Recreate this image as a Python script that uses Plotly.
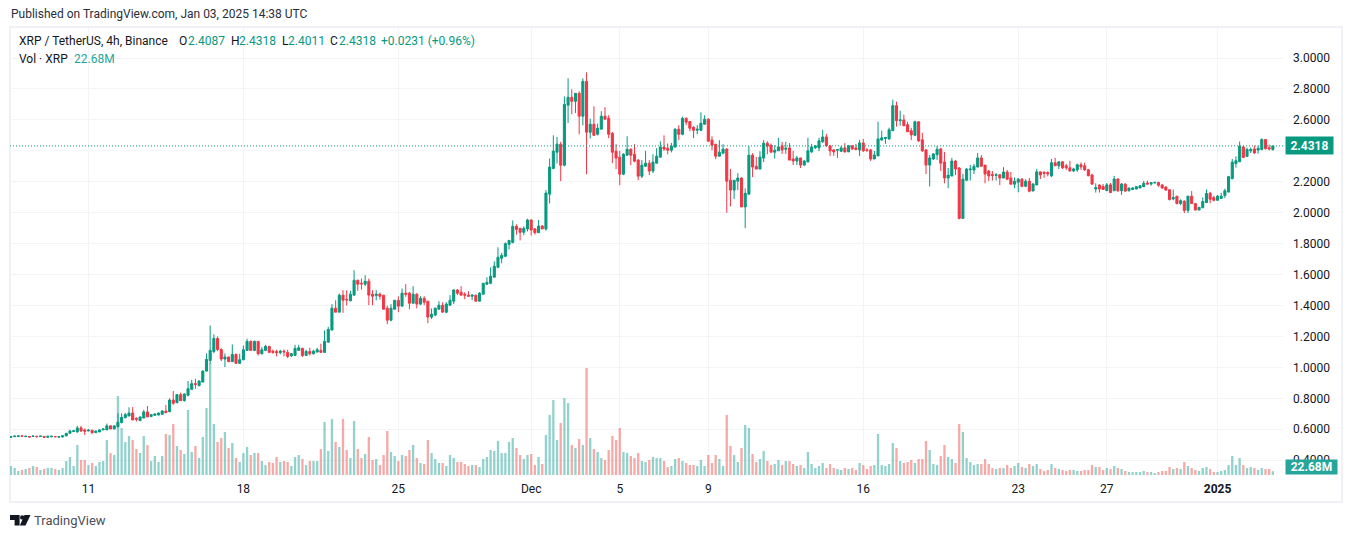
"""XRP / TetherUS 4h chart in the TradingView look, built with plotly."""
import pandas as pd
import plotly.graph_objects as go

# the page keeps the browser's 8px body margin, so the figure is that much smaller
PAGE_MARGIN = 8
W, H = 1336, 522
UP, DOWN = "#089981", "#f23645"
VOL_UP, VOL_DOWN = "rgba(38,166,154,0.5)", "rgba(239,83,80,0.5)"
TEXT = "#131722"
GRID = "#f3f4f6"
FRAME = "#eff1f7"
FONT = "Roboto"

OPENS = [
    .548, .552, .553, .558, .552, .553, .553, .555, .553, .554,
    .548, .551, .554, .549, .550, .557, .574, .585, .583, .609,
    .596, .589, .594, .578, .583, .596, .596, .622, .602, .617,
    .643, .675, .686, .705, .671, .656, .673, .712, .682, .690,
    .692, .697, .718, .714, .789, .772, .824, .785, .820, .858,
    .895, .882, .905, .976, 1.045, 1.103, 1.187, 1.116, 1.054, 1.067,
    1.037, 1.084, 1.026, 1.050, 1.110, 1.168, 1.110, 1.168, 1.088, 1.110,
    1.136, 1.105, 1.103, 1.095, 1.105, 1.097, 1.075, 1.077, 1.110, 1.123,
    1.077, 1.103, 1.088, 1.100, 1.110, 1.097, 1.163, 1.241, 1.383, 1.357,
    1.467, 1.440, 1.430, 1.467, 1.563, 1.544, 1.538, 1.557, 1.473, 1.464,
    1.473, 1.467, 1.383, 1.305, 1.376, 1.434, 1.396, 1.480, 1.480, 1.415,
    1.473, 1.409, 1.447, 1.428, 1.325, 1.338, 1.376, 1.402, 1.357, 1.402,
    1.428, 1.500, 1.486, 1.473, 1.467, 1.460, 1.467, 1.428, 1.473, 1.538,
    1.544, 1.583, 1.647, 1.705, 1.718, 1.795, 1.808, 1.912, 1.899, 1.873,
    1.895, 1.953, 1.895, 1.871, 1.914, 1.895, 2.120, 2.286, 2.391, 2.443,
    2.307, 2.695, 2.746, 2.720, 2.772, 2.624, 2.849, 2.520, 2.572, 2.507,
    2.540, 2.624, 2.610, 2.514, 2.398, 2.359, 2.249, 2.372, 2.410, 2.378,
    2.340, 2.236, 2.300, 2.320, 2.269, 2.320, 2.359, 2.424, 2.417, 2.404,
    2.424, 2.540, 2.507, 2.610, 2.590, 2.552, 2.533, 2.533, 2.572, 2.604,
    2.469, 2.443, 2.365, 2.385, 2.411, 2.210, 2.146, 2.204, 2.224, 2.037,
    2.120, 2.372, 2.300, 2.282, 2.353, 2.449, 2.436, 2.391, 2.400, 2.432,
    2.410, 2.419, 2.347, 2.334, 2.354, 2.308, 2.328, 2.393, 2.420, 2.419,
    2.458, 2.490, 2.432, 2.406, 2.404, 2.397, 2.419, 2.393, 2.432, 2.419,
    2.406, 2.451, 2.406, 2.406, 2.347, 2.367, 2.470, 2.480, 2.477, 2.530,
    2.692, 2.595, 2.600, 2.569, 2.530, 2.500, 2.588, 2.471, 2.406, 2.308,
    2.347, 2.375, 2.412, 2.328, 2.224, 2.237, 2.334, 2.289, 1.963, 2.210,
    2.278, 2.276, 2.295, 2.354, 2.308, 2.269, 2.247, 2.241, 2.245, 2.224,
    2.263, 2.224, 2.184, 2.197, 2.217, 2.171, 2.204, 2.140, 2.179, 2.264,
    2.262, 2.260, 2.238, 2.323, 2.303, 2.329, 2.303, 2.290, 2.270, 2.277,
    2.310, 2.303, 2.277, 2.244, 2.153, 2.179, 2.170, 2.142, 2.180, 2.142,
    2.218, 2.142, 2.185, 2.142, 2.150, 2.153, 2.160, 2.168, 2.192, 2.185,
    2.192, 2.196, 2.179, 2.166, 2.148, 2.089, 2.107, 2.059, 2.074, 2.015,
    2.107, 2.059, 2.017, 2.032, 2.065, 2.126, 2.098, 2.080, 2.092, 2.111,
    2.133, 2.220, 2.318, 2.329, 2.425, 2.364, 2.400, 2.412, 2.405, 2.408,
    2.473, 2.420, 2.4087,
]
CLOSES = [
    .552, .556, .557, .555, .555, .550, .556, .553, .556, .548,
    .555, .555, .552, .552, .558, .574, .589, .591, .609, .589,
    .587, .594, .578, .589, .596, .602, .622, .602, .622, .645,
    .677, .695, .705, .660, .665, .680, .712, .680, .695, .699,
    .705, .718, .708, .789, .768, .824, .785, .828, .862, .895,
    .890, .912, .976, 1.052, 1.110, 1.187, 1.116, 1.054, 1.067, 1.037,
    1.084, 1.026, 1.050, 1.114, 1.168, 1.110, 1.168, 1.088, 1.114, 1.136,
    1.097, 1.097, 1.095, 1.105, 1.100, 1.071, 1.089, 1.123, 1.127, 1.077,
    1.103, 1.088, 1.105, 1.114, 1.097, 1.168, 1.245, 1.383, 1.357, 1.467,
    1.434, 1.436, 1.473, 1.563, 1.538, 1.540, 1.557, 1.467, 1.460, 1.473,
    1.460, 1.376, 1.305, 1.383, 1.434, 1.396, 1.480, 1.473, 1.415, 1.473,
    1.409, 1.447, 1.421, 1.325, 1.344, 1.383, 1.402, 1.357, 1.409, 1.434,
    1.500, 1.480, 1.467, 1.467, 1.460, 1.467, 1.428, 1.480, 1.544, 1.550,
    1.589, 1.654, 1.712, 1.724, 1.800, 1.821, 1.912, 1.892, 1.873, 1.899,
    1.953, 1.888, 1.871, 1.914, 1.895, 2.127, 2.295, 2.398, 2.443, 2.307,
    2.700, 2.746, 2.720, 2.772, 2.624, 2.849, 2.520, 2.572, 2.500, 2.546,
    2.624, 2.604, 2.507, 2.391, 2.353, 2.249, 2.378, 2.410, 2.372, 2.333,
    2.236, 2.307, 2.320, 2.269, 2.327, 2.365, 2.424, 2.411, 2.404, 2.430,
    2.540, 2.507, 2.610, 2.585, 2.546, 2.533, 2.540, 2.578, 2.604, 2.462,
    2.436, 2.365, 2.391, 2.411, 2.204, 2.146, 2.210, 2.224, 2.037, 2.125,
    2.372, 2.295, 2.282, 2.359, 2.449, 2.430, 2.391, 2.404, 2.425, 2.406,
    2.417, 2.340, 2.334, 2.354, 2.308, 2.334, 2.400, 2.425, 2.432, 2.465,
    2.490, 2.432, 2.400, 2.393, 2.408, 2.419, 2.393, 2.432, 2.412, 2.408,
    2.451, 2.400, 2.402, 2.347, 2.373, 2.477, 2.484, 2.486, 2.536, 2.692,
    2.595, 2.600, 2.562, 2.523, 2.503, 2.588, 2.464, 2.400, 2.308, 2.354,
    2.380, 2.410, 2.320, 2.224, 2.243, 2.334, 2.282, 1.963, 2.217, 2.282,
    2.282, 2.300, 2.354, 2.300, 2.250, 2.237, 2.241, 2.245, 2.224, 2.263,
    2.217, 2.184, 2.204, 2.217, 2.170, 2.204, 2.139, 2.185, 2.264, 2.244,
    2.255, 2.250, 2.323, 2.303, 2.329, 2.290, 2.290, 2.270, 2.283, 2.310,
    2.296, 2.277, 2.238, 2.185, 2.162, 2.153, 2.150, 2.180, 2.130, 2.218,
    2.142, 2.185, 2.140, 2.160, 2.160, 2.168, 2.174, 2.190, 2.185, 2.194,
    2.196, 2.177, 2.160, 2.146, 2.085, 2.098, 2.059, 2.078, 2.015, 2.107,
    2.059, 2.017, 2.035, 2.072, 2.124, 2.087, 2.080, 2.107, 2.107, 2.142,
    2.233, 2.327, 2.336, 2.430, 2.357, 2.408, 2.408, 2.386, 2.416, 2.473,
    2.414, 2.412, 2.4318,
]
HIGHS = [
    .553, .558, .559, .561, .557, .556, .560, .557, .557, .555,
    .556, .556, .556, .556, .559, .575, .596, .593, .622, .622,
    .604, .602, .596, .590, .600, .606, .637, .624, .624, .703,
    .703, .706, .742, .744, .677, .680, .725, .750, .699, .703,
    .708, .724, .757, .800, .847, .826, .837, .832, .912, .920,
    .927, .916, .981, 1.090, 1.271, 1.213, 1.200, 1.123, 1.090, 1.070,
    1.148, 1.090, 1.088, 1.142, 1.185, 1.174, 1.174, 1.170, 1.131, 1.146,
    1.138, 1.114, 1.114, 1.114, 1.116, 1.114, 1.093, 1.146, 1.146, 1.127,
    1.114, 1.127, 1.114, 1.127, 1.153, 1.239, 1.262, 1.409, 1.434, 1.477,
    1.499, 1.499, 1.495, 1.628, 1.568, 1.574, 1.596, 1.574, 1.499, 1.499,
    1.484, 1.467, 1.400, 1.409, 1.434, 1.460, 1.510, 1.538, 1.488, 1.525,
    1.480, 1.460, 1.460, 1.428, 1.381, 1.387, 1.428, 1.421, 1.421, 1.467,
    1.507, 1.507, 1.525, 1.486, 1.492, 1.473, 1.469, 1.486, 1.544, 1.583,
    1.647, 1.686, 1.776, 1.740, 1.808, 1.821, 1.950, 1.925, 1.899, 1.912,
    1.961, 1.957, 1.901, 1.953, 1.920, 2.146, 2.350, 2.500, 2.490, 2.458,
    2.752, 2.869, 2.798, 2.772, 2.785, 2.869, 2.907, 2.608, 2.688, 2.576,
    2.656, 2.682, 2.630, 2.520, 2.443, 2.400, 2.385, 2.494, 2.417, 2.443,
    2.346, 2.340, 2.400, 2.340, 2.378, 2.417, 2.462, 2.500, 2.447, 2.451,
    2.546, 2.566, 2.620, 2.616, 2.590, 2.559, 2.566, 2.649, 2.630, 2.611,
    2.494, 2.443, 2.469, 2.443, 2.417, 2.282, 2.210, 2.256, 2.230, 2.157,
    2.430, 2.385, 2.360, 2.398, 2.469, 2.462, 2.447, 2.436, 2.484, 2.458,
    2.458, 2.450, 2.400, 2.367, 2.354, 2.341, 2.484, 2.445, 2.438, 2.484,
    2.536, 2.510, 2.438, 2.412, 2.412, 2.432, 2.450, 2.438, 2.438, 2.445,
    2.471, 2.477, 2.419, 2.412, 2.400, 2.588, 2.530, 2.490, 2.550, 2.731,
    2.718, 2.660, 2.634, 2.588, 2.549, 2.595, 2.588, 2.516, 2.412, 2.373,
    2.386, 2.432, 2.419, 2.393, 2.289, 2.354, 2.341, 2.295, 2.250, 2.289,
    2.308, 2.315, 2.386, 2.373, 2.308, 2.276, 2.269, 2.256, 2.250, 2.295,
    2.276, 2.263, 2.228, 2.224, 2.224, 2.217, 2.224, 2.192, 2.283, 2.264,
    2.266, 2.266, 2.347, 2.355, 2.331, 2.333, 2.316, 2.336, 2.290, 2.317,
    2.325, 2.323, 2.283, 2.251, 2.190, 2.183, 2.185, 2.192, 2.192, 2.238,
    2.222, 2.192, 2.190, 2.160, 2.165, 2.172, 2.179, 2.205, 2.207, 2.198,
    2.198, 2.198, 2.186, 2.170, 2.153, 2.150, 2.107, 2.087, 2.081, 2.107,
    2.140, 2.063, 2.035, 2.098, 2.150, 2.135, 2.109, 2.114, 2.129, 2.155,
    2.238, 2.347, 2.364, 2.460, 2.434, 2.421, 2.421, 2.434, 2.434, 2.480,
    2.473, 2.440, 2.4318,
]
LOWS = [
    .547, .551, .551, .553, .550, .547, .551, .546, .552, .547,
    .547, .549, .548, .548, .549, .556, .572, .584, .578, .583,
    .563, .587, .570, .577, .582, .595, .595, .602, .601, .610,
    .638, .671, .686, .660, .650, .656, .671, .680, .678, .688,
    .690, .695, .703, .710, .758, .768, .785, .779, .813, .858,
    .862, .878, .903, .974, 1.024, 1.092, 1.105, 1.041, 1.002, 1.034,
    1.034, 1.026, 1.026, 1.045, 1.110, 1.110, 1.105, 1.077, 1.084, 1.105,
    1.097, 1.088, 1.071, 1.084, 1.071, 1.060, 1.067, 1.077, 1.110, 1.067,
    1.077, 1.077, 1.084, 1.095, 1.097, 1.097, 1.160, 1.241, 1.357, 1.357,
    1.353, 1.400, 1.428, 1.467, 1.495, 1.503, 1.525, 1.402, 1.402, 1.434,
    1.439, 1.376, 1.280, 1.299, 1.376, 1.357, 1.396, 1.456, 1.376, 1.415,
    1.381, 1.402, 1.402, 1.286, 1.312, 1.331, 1.376, 1.357, 1.350, 1.400,
    1.409, 1.467, 1.467, 1.440, 1.460, 1.434, 1.428, 1.428, 1.473, 1.533,
    1.538, 1.583, 1.641, 1.673, 1.718, 1.763, 1.802, 1.858, 1.821, 1.854,
    1.879, 1.852, 1.858, 1.871, 1.895, 1.884, 2.060, 2.282, 2.318, 2.204,
    2.300, 2.580, 2.636, 2.645, 2.507, 2.565, 2.249, 2.480, 2.500, 2.500,
    2.540, 2.604, 2.482, 2.320, 2.282, 2.178, 2.243, 2.367, 2.307, 2.326,
    2.210, 2.224, 2.300, 2.243, 2.256, 2.320, 2.359, 2.400, 2.378, 2.390,
    2.424, 2.469, 2.500, 2.566, 2.527, 2.482, 2.507, 2.527, 2.572, 2.462,
    2.404, 2.346, 2.365, 2.378, 2.000, 2.040, 2.088, 2.146, 2.037, 1.900,
    2.114, 2.230, 2.282, 2.282, 2.327, 2.378, 2.391, 2.350, 2.400, 2.380,
    2.380, 2.340, 2.308, 2.308, 2.289, 2.302, 2.328, 2.387, 2.412, 2.397,
    2.451, 2.425, 2.367, 2.367, 2.354, 2.393, 2.389, 2.393, 2.406, 2.406,
    2.367, 2.393, 2.393, 2.334, 2.347, 2.367, 2.464, 2.445, 2.471, 2.530,
    2.556, 2.562, 2.562, 2.523, 2.470, 2.497, 2.458, 2.393, 2.250, 2.170,
    2.341, 2.341, 2.270, 2.190, 2.158, 2.237, 2.243, 1.957, 1.963, 2.204,
    2.208, 2.250, 2.295, 2.300, 2.190, 2.204, 2.208, 2.208, 2.178, 2.224,
    2.210, 2.184, 2.158, 2.132, 2.165, 2.165, 2.132, 2.140, 2.179, 2.218,
    2.225, 2.235, 2.231, 2.303, 2.283, 2.283, 2.277, 2.266, 2.264, 2.264,
    2.277, 2.270, 2.238, 2.179, 2.130, 2.130, 2.148, 2.142, 2.128, 2.140,
    2.133, 2.115, 2.133, 2.137, 2.146, 2.151, 2.157, 2.166, 2.183, 2.175,
    2.190, 2.168, 2.153, 2.142, 2.079, 2.080, 2.054, 2.048, 1.998, 1.998,
    2.059, 2.015, 2.017, 2.030, 2.065, 2.060, 2.074, 2.080, 2.090, 2.094,
    2.133, 2.216, 2.292, 2.329, 2.353, 2.360, 2.386, 2.381, 2.382, 2.404,
    2.408, 2.404, 2.4011,
]
# volume, millions of XRP
VOLUMES = [
    54, 42, 24, 30, 36, 42, 54, 48, 30, 36,
    42, 42, 36, 30, 42, 84, 108, 54, 180, 90,
    90, 60, 72, 54, 78, 84, 210, 132, 120, 474,
    282, 198, 234, 210, 156, 132, 234, 180, 84, 114,
    78, 114, 246, 240, 306, 174, 150, 126, 390, 138,
    174, 102, 228, 402, 672, 306, 198, 222, 258, 162,
    192, 102, 78, 132, 168, 120, 132, 132, 84, 60,
    78, 72, 108, 78, 84, 78, 54, 108, 120, 96,
    60, 84, 84, 84, 156, 318, 144, 336, 198, 168,
    336, 150, 102, 324, 156, 102, 126, 228, 90, 96,
    60, 120, 264, 138, 114, 84, 120, 114, 150, 180,
    102, 72, 66, 210, 132, 96, 72, 72, 54, 120,
    102, 78, 78, 66, 54, 60, 60, 48, 96, 108,
    150, 144, 204, 132, 132, 198, 222, 162, 120, 96,
    120, 126, 60, 108, 66, 240, 360, 450, 210, 312,
    462, 432, 180, 162, 216, 180, 642, 222, 156, 138,
    102, 90, 150, 234, 210, 282, 138, 132, 114, 102,
    132, 84, 78, 90, 108, 102, 102, 84, 48, 54,
    96, 102, 84, 72, 60, 60, 54, 90, 54, 120,
    72, 120, 96, 54, 360, 174, 120, 78, 162, 300,
    282, 126, 78, 96, 144, 84, 60, 66, 90, 60,
    84, 84, 66, 54, 60, 42, 138, 66, 42, 54,
    72, 42, 66, 42, 36, 30, 42, 36, 42, 30,
    72, 60, 36, 54, 60, 246, 60, 54, 66, 192,
    162, 84, 72, 78, 90, 72, 96, 96, 204, 150,
    66, 60, 114, 180, 108, 96, 72, 306, 258, 102,
    78, 60, 66, 66, 96, 66, 42, 36, 42, 42,
    60, 42, 54, 72, 48, 42, 66, 54, 66, 36,
    24, 30, 66, 42, 36, 30, 24, 30, 30, 24,
    24, 30, 30, 60, 48, 48, 30, 42, 36, 54,
    42, 36, 24, 18, 18, 18, 18, 24, 18, 18,
    12, 18, 24, 24, 48, 36, 42, 36, 78, 54,
    42, 30, 24, 42, 48, 36, 18, 18, 24, 30,
    60, 114, 60, 102, 60, 42, 48, 42, 30, 42,
    36, 36, 22.68,
]
START = "2024-11-07 12:00"
TICK_DATES = ["2024-11-11", "2024-11-18", "2024-11-25", "2024-12-01", "2024-12-05",
              "2024-12-09", "2024-12-16", "2024-12-23", "2024-12-27", "2025-01-01"]
TICK_TEXT = ["11", "18", "25", "Dec", "5", "9", "16", "23", "27", "<b>2025</b>"]
PRICE_TICKS = [0.4, 0.6, 0.8, 1.0, 1.2, 1.4, 1.6, 1.8, 2.0, 2.2, 2.4, 2.6, 2.8, 3.0]
# 2.4000 sits under the last-price tag in the reference
PRICE_TEXT = ["0.4000", "0.6000", "0.8000", "1.0000", "1.2000", "1.4000", "1.6000", "1.8000",
              "2.0000", "2.2000", "", "2.6000", "2.8000", "3.0000"]

dates = pd.date_range(START, periods=len(CLOSES), freq="4h")
vol_colors = [VOL_UP if c >= o else VOL_DOWN for o, c in zip(OPENS, CLOSES)]


def px(x):
    return (x - PAGE_MARGIN) / W


def py(y):
    return 1 - (y - PAGE_MARGIN) / H


def label(x, y, text, color=TEXT, size=12, **kw):
    fig.add_annotation(xref="paper", yref="paper", x=px(x), y=py(y), text=text, showarrow=False,
                       xanchor="left", yanchor="middle", borderpad=0,
                       font=dict(family=FONT, size=size, color=color), **kw)


fig = go.Figure()
fig.add_bar(x=dates, y=VOLUMES, marker=dict(color=vol_colors, line_width=0),
            width=9e6, yaxis="y")
fig.add_candlestick(x=dates, open=OPENS, high=HIGHS, low=LOWS, close=CLOSES, yaxis="y2",
                    increasing=dict(line=dict(color=UP, width=1), fillcolor=UP),
                    decreasing=dict(line=dict(color=DOWN, width=1), fillcolor=DOWN),
                    whiskerwidth=0)

fig.update_layout(
    width=W, height=H, margin=dict(l=0, r=0, t=0, b=0), showlegend=False,
    paper_bgcolor="white", plot_bgcolor="white", boxgap=0.2,
    font=dict(family=FONT, size=12, color=TEXT),
    xaxis=dict(domain=[px(10), px(1283)], range=["2024-11-07 11:00", "2025-01-03 23:00"],
               tickvals=TICK_DATES, ticktext=TICK_TEXT, tickangle=0,
               showgrid=True, gridcolor=GRID, gridwidth=1, zeroline=False, showline=False,
               rangeslider=dict(visible=False), ticks="", ticklabelstandoff=5,
               tickfont=dict(family=FONT, size=12, color=TEXT)),
    # 6 M per pixel of the reference's volume pane
    yaxis=dict(domain=[py(475), py(27)], range=[0, 2688], visible=False, showgrid=False),
    yaxis2=dict(domain=[py(475), py(27)], range=[0.3044, 3.2004], overlaying="y", side="right",
                anchor="x", tickvals=PRICE_TICKS, ticktext=PRICE_TEXT, showgrid=True, gridcolor=GRID,
                gridwidth=1, zeroline=False, showline=False, ticks="", ticklabelstandoff=9,
                tickfont=dict(family=FONT, size=12, color=TEXT)),
)

# outer frame, last-price line
fig.add_shape(type="rect", xref="paper", yref="paper", x0=px(10), x1=px(1342), y0=py(502), y1=py(27),
              line=dict(color=FRAME, width=2), layer="below")
fig.add_shape(type="line", xref="paper", yref="y2", x0=px(10), x1=px(1283), y0=CLOSES[-1], y1=CLOSES[-1],
              line=dict(color=UP, width=1, dash="1px,2px"))

# TradingView mark
fig.add_shape(type="path", xref="paper", yref="paper", fillcolor="#131722", line_width=0,
              path=(f"M{px(10)},{py(515)} L{px(19.6)},{py(515)} L{px(19.6)},{py(525.5)} "
                    f"L{px(14.6)},{py(525.5)} L{px(14.6)},{py(520)} L{px(10)},{py(520)} Z"))
fig.add_shape(type="path", xref="paper", yref="paper", fillcolor="#131722", line_width=0,
              path=(f"M{px(24.5)},{py(515)} L{px(30.5)},{py(515)} L{px(25.5)},{py(525.5)} "
                    f"L{px(19.8)},{py(525.5)} Z"))
fig.add_shape(type="circle", xref="paper", yref="paper", fillcolor="#131722", line_width=0,
              x0=px(20), x1=px(24.4), y0=py(519.6), y1=py(515.2))

label(9.5, 14.5, "Published on TradingView.com, Jan 03, 2025 14:38 UTC", color="#2a2e39")
label(17.5, 41, "XRP / TetherUS, 4h, Binance")
for x, text in [(178, "O"), (230, "H"), (281, "L"), (329, "C")]:
    label(x, 41, text)
for x, text in [(187, "2.4087"), (238, "2.4318"), (287, "2.4011"), (338, "2.4318"),
                (380, "+0.0231 (+0.96%)")]:
    label(x, 41, text, color=UP)
label(17.5, 59, "Vol · XRP")
label(73, 59, "22.68M", color="#26a69a")
label(33, 520.5, "TradingView", color="#4a4e5a", size=13)

fig.add_annotation(xref="paper", yref="y2", x=px(1285), y=CLOSES[-1], text="<b>2.4318</b>", showarrow=False,
                   xanchor="left", yanchor="middle", bgcolor=UP, borderpad=2, width=43, height=13,
                   font=dict(family=FONT, size=12, color="white"))
fig.add_annotation(xref="paper", yref="paper", x=px(1285), y=py(467), text="<b>22.68M</b>", showarrow=False,
                   xanchor="left", yanchor="middle", bgcolor="#26a69a", borderpad=1, width=49, height=12,
                   font=dict(family=FONT, size=12, color="white"))

fig.write_html("out.html")
